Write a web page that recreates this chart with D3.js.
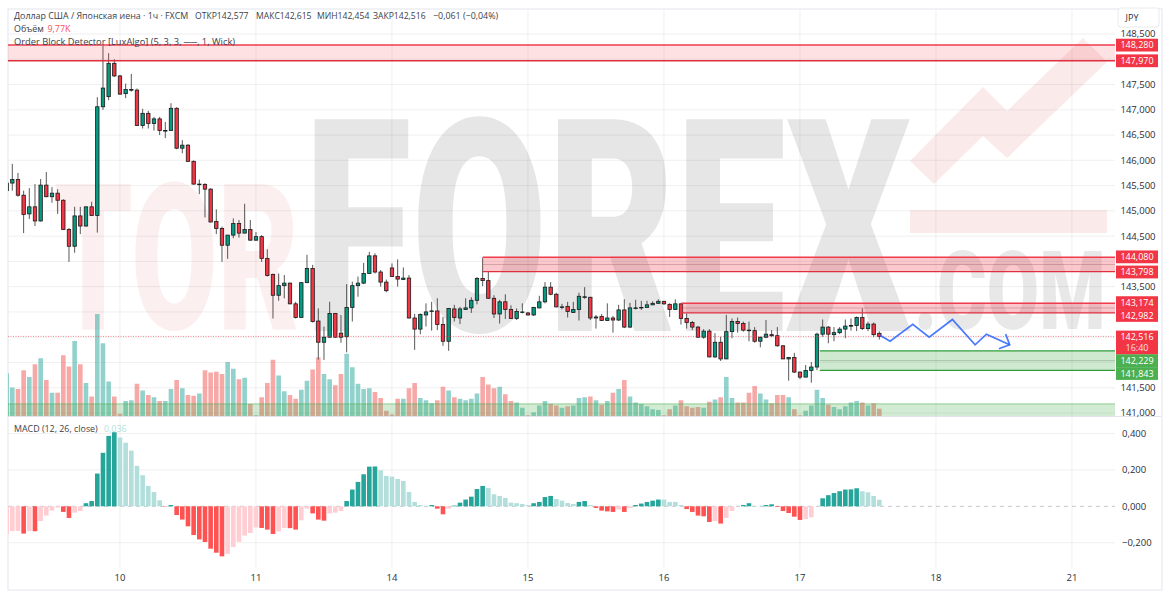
<!DOCTYPE html>
<html><head><meta charset="utf-8">
<script src="https://cdn.jsdelivr.net/npm/d3@7/dist/d3.min.js"></script>
<style>html,body{margin:0;padding:0;background:#fff;overflow:hidden}svg{display:block}text{font-family:"Open Sans","Noto Sans",sans-serif}</style>
</head><body><svg id="c" width="1170" height="600"></svg>
<script>
const firstBar = -20;
const opens = [145.40,145.55,145.62,145.31,144.94,145.08,144.80,145.51,145.28,145.35,145.21,144.63,144.30,144.90,144.70,145.08,144.91,147.06,147.26,147.92,
147.67,147.32,147.40,147.39,146.69,146.93,146.73,146.82,146.59,146.59,
147.03,146.24,146.30,145.98,145.53,145.52,145.43,144.79,144.65,144.32,
144.52,144.75,144.56,144.63,144.42,144.49,144.06,143.74,143.33,143.52,
143.57,143.16,142.89,143.58,143.86,142.82,142.40,142.50,142.97,142.58,
142.51,143.09,143.52,143.57,143.76,144.11,143.79,143.59,143.87,143.70,
143.64,143.67,142.88,142.66,142.94,143.01,143.02,142.75,142.42,143.06,
142.88,143.05,143.08,143.23,143.66,143.62,143.27,142.96,143.20,143.05,
142.87,143.00,142.98,142.94,143.08,143.20,143.49,143.35,143.10,143.11,
142.99,143.05,143.30,143.29,142.88,142.91,142.83,142.88,142.84,143.04,
142.70,143.08,143.09,143.09,143.14,143.17,143.21,143.15,143.05,143.16,
142.87,142.79,142.70,142.50,142.62,142.11,142.40,142.07,142.61,142.81,
142.77,142.64,142.63,142.42,142.50,142.55,142.53,142.33,142.07,142.10,
141.81,141.71,141.84,141.91,142.56,142.70,142.55,142.59,142.66,142.72,
142.73,142.89,142.67,142.76,142.577];
const closes = [145.55,145.62,145.31,144.93,145.08,144.80,145.51,145.28,145.35,145.21,144.63,144.30,144.90,144.70,145.08,144.91,147.06,147.43,147.92,147.67,
147.31,147.40,147.40,146.69,146.93,146.73,146.82,146.59,146.59,147.03,
146.24,146.30,145.98,145.53,145.53,145.43,144.78,144.65,144.32,144.52,
144.75,144.56,144.63,144.42,144.49,144.06,143.72,143.33,143.52,143.57,
143.16,142.89,143.58,143.86,142.81,142.40,142.50,142.97,142.50,142.50,
143.09,143.52,143.57,143.76,144.11,143.79,143.59,143.42,143.70,143.65,
143.67,142.88,142.66,142.95,143.00,143.02,142.75,142.42,143.07,142.89,
143.06,143.08,143.23,143.66,143.62,143.27,142.96,143.20,143.05,142.87,
143.01,143.00,142.94,143.09,143.20,143.49,143.35,143.10,143.10,143.01,
143.05,143.31,143.30,142.88,142.90,142.83,142.88,142.84,143.04,142.70,
143.08,143.08,143.09,143.14,143.17,143.21,143.16,143.05,143.16,142.87,
142.79,142.70,142.50,142.62,142.11,142.40,142.07,142.61,142.81,142.77,
142.64,142.63,142.42,142.50,142.56,142.53,142.33,142.07,142.10,141.81,
141.71,141.84,141.91,142.56,142.70,142.56,142.59,142.66,142.72,142.73,
142.89,142.67,142.76,142.55,142.516];
const highs = [145.60,145.93,145.75,145.40,145.45,145.53,145.63,145.77,145.47,145.43,145.23,144.66,145.08,145.08,145.08,145.18,147.25,148.27,148.12,148.00,
147.69,147.52,147.71,147.42,147.02,146.98,146.86,146.86,146.76,147.13,
147.05,146.40,146.32,146.00,145.62,145.55,145.45,145.03,144.69,144.52,
144.85,144.82,145.14,144.82,144.58,144.52,144.24,143.76,143.76,143.73,
143.58,143.20,143.59,144.13,143.93,143.07,142.71,143.20,142.98,142.94,
143.55,143.60,143.70,143.97,144.19,144.16,143.83,143.64,143.96,144.04,
143.88,143.73,142.96,142.97,143.17,143.20,143.27,142.90,143.08,143.14,
143.10,143.27,143.29,143.69,144.07,143.81,143.33,143.24,143.35,143.13,
143.07,143.17,143.00,143.10,143.32,143.59,143.59,143.38,143.16,143.20,
143.20,143.38,143.49,143.30,142.94,142.96,143.17,142.92,143.14,143.25,
143.18,143.24,143.22,143.22,143.21,143.25,143.22,143.17,143.25,143.17,
142.97,142.82,142.72,142.66,142.66,142.58,142.51,142.94,142.87,142.89,
142.81,142.81,142.70,142.51,142.84,142.64,142.70,142.34,142.11,142.19,
141.82,141.95,142.01,142.59,142.85,142.72,142.70,142.70,142.85,142.87,
142.91,143.07,142.81,142.79,142.615];
const lows = [145.38,145.40,145.28,144.56,144.84,144.70,144.79,145.27,145.16,144.94,144.62,143.99,144.17,144.54,144.69,144.90,144.57,147.00,147.19,147.65,
147.30,147.23,147.36,146.68,146.63,146.63,146.59,146.50,146.44,146.59,
146.22,146.14,145.97,145.52,145.33,144.87,144.77,144.54,143.99,144.05,
144.46,144.47,144.56,144.41,144.41,143.99,143.70,142.87,143.22,143.27,
143.15,142.87,142.89,143.57,142.79,142.06,142.05,142.49,142.49,142.39,
142.20,142.81,143.30,143.55,143.75,143.76,143.50,143.39,143.69,143.50,
143.63,142.87,142.25,142.56,142.71,142.63,142.64,142.33,142.23,142.81,
142.76,143.04,142.98,143.15,143.51,143.26,142.88,142.77,142.86,142.87,
142.84,142.97,142.93,142.92,143.07,143.17,143.33,143.09,143.05,142.89,
142.98,142.83,143.26,142.84,142.67,142.82,142.82,142.59,142.82,142.68,
142.68,143.05,143.04,143.08,143.14,143.16,143.14,142.90,143.04,142.75,
142.67,142.64,142.49,142.47,142.10,142.09,142.03,142.07,142.48,142.59,
142.61,142.42,142.39,142.30,142.48,142.50,142.31,142.07,141.64,141.79,
141.67,141.71,141.60,141.85,142.51,142.38,142.42,142.56,142.48,142.63,
142.62,142.64,142.62,142.50,142.454];
const volumes = [57,38,36,61,52,69,77,48,31,31,81,66,100,69,44,26,136,97,46,26,3,
20,21,43,34,28,25,20,20,36,48,37,28,27,30,61,58,59,56,72,63,
49,51,16,1,25,44,75,54,33,28,23,35,47,62,78,56,49,41,56,83,
65,43,36,37,32,24,7,2,23,
23,37,44,24,21,17,21,39,34,25,23,21,23,30,52,42,37,39,29,20,
18,11,1,5,14,20,16,14,11,13,14,24,25,26,21,15,20,31,36,48,
26,18,16,13,9,8,1,9,14,21,13,11,12,11,19,22,25,52,24,18,
18,31,40,30,22,17,28,28,25,9,1,7,14,35,24,15,12,9,13,18,
20,18,14,17,9.77];
const macdHist = [-0.155,-0.136,-0.136,-0.150,-0.136,-0.137,-0.081,-0.051,-0.024,-0.007,-0.031,-0.064,-0.035,-0.026,0.017,0.029,0.18,0.294,0.387,0.407,
0.378,0.349,0.306,0.222,0.171,0.112,0.079,0.033,-0.002,0.007,
-0.048,-0.073,-0.11,-0.158,-0.182,-0.196,-0.233,-0.255,-0.275,-0.261,
-0.224,-0.195,-0.161,-0.147,-0.116,-0.119,-0.128,-0.152,-0.138,-0.119,
-0.120,-0.128,-0.077,-0.013,-0.039,-0.073,-0.079,-0.039,-0.035,-0.026,
0.029,0.092,0.134,0.176,0.218,0.219,0.198,0.167,0.163,0.150,
0.139,0.079,0.024,0.007,0.002,0.007,-0.013,-0.044,-0.013,0.004,
0.020,0.037,0.053,0.095,0.112,0.101,0.066,0.057,0.046,0.020,
0.017,0.013,0.007,0.017,0.024,0.051,0.057,0.040,0.031,0.018,
0.013,0.024,0.029,0.007,-0.009,-0.024,-0.028,-0.031,-0.018,-0.031,
-0.009,0.007,0.015,0.024,0.031,0.037,0.037,0.024,0.024,0.007,
-0.015,-0.031,-0.051,-0.055,-0.086,-0.081,-0.095,-0.064,-0.026,0.0,
0.007,0.017,0.002,0.002,0.007,0.011,-0.004,-0.026,-0.037,-0.057,
-0.075,-0.07,-0.061,-0.001,0.044,0.061,0.073,0.083,0.092,0.093,
0.099,0.083,0.077,0.057,0.036];
const dayTicks = [0,24,48,72,96,120,144,168];
const dayLabels = ["10","11","14","15","16","17","18","21"];
const priceTicks = [148.5,148,147.5,147,146.5,146,145.5,145,144.5,144,143.5,143,142.5,142,141.5,141];
const hiddenPriceTicks = [148,144,143,142.5,142];
const macdTicks = [0.4,0.2,0,-0.2];
const redZones = [{from:-19.76,top:148.28,bottom:147.97,strong:false},{from:64,top:144.08,bottom:143.798,strong:true},{from:99,top:143.174,bottom:142.982,strong:true}];
const greenZones = [{from:123.5,top:142.229,bottom:141.843}];
const volumeZoneTop = 141.18, volumeZoneBottom = 140.94;
const lastPrice = 142.516;
const forecastIdx = [134.1,135.9,139.9,142.8,146.9,150.9,152.9,157];
const forecastPrice = [142.54,142.42,142.755,142.50,142.85,142.35,142.56,142.35];
const arrowHeadIdx = [156.3,157,155.1];
const arrowHeadPrice = [142.56,142.35,142.27];
const priceFlags = [{t:"148,280",y:148.28,dy:0,c:"#f23645"},{t:"147,970",y:147.97,dy:0,c:"#f23645"},{t:"144,080",y:144.08,dy:-0.5,c:"#f23645"},{t:"143,798",y:143.798,dy:0.4,c:"#f23645"},{t:"143,174",y:143.174,dy:-0.5,c:"#f23645"},{t:"142,982",y:142.982,dy:2.6,c:"#f23645"},{t:"142,229",y:142.229,dy:9.7,c:"#4caf50"},{t:"141,843",y:141.843,dy:3.1,c:"#4caf50"}];

const W = {l:8, r:1115, axisR:1162, top:9, sep:416.5, gridBottom:568, bottom:590};
const bars = opens.map((o,k)=>({i:firstBar+k,o,c:closes[k],h:highs[k],l:lows[k],v:volumes[k],m:macdHist[k],mp:k?macdHist[k-1]:macdHist[k]}));
const x = d3.scaleLinear().domain([-19.76,175.59]).range([W.l,W.r]);
const y = d3.scaleLinear().domain([141,148.5]).range([413,34]);
const yV = d3.scaleLinear().domain([0,136]).range([416,314]);
const yM = d3.scaleLinear().domain([-0.2,0.4]).range([542.7,433.5]);
const fmt = d3.format(".3f"), ru = v=>fmt(v).replace(".",",").replace("-","\u2212");
const svg = d3.select("#c");
const defs = svg.append("defs");
defs.append("clipPath").attr("id","cp").append("rect").attr("x",W.l).attr("y",W.top).attr("width",W.r-W.l).attr("height",W.sep-W.top);
defs.append("clipPath").attr("id","cm").append("rect").attr("x",W.l).attr("y",W.sep).attr("width",W.r-W.l).attr("height",W.gridBottom-W.sep);

// watermark
const wm = svg.append("g");
function mark(t,x0,base,sx,size,fill){wm.append("text").text(t).attr("transform",`translate(${x0},${base}) scale(${sx},1)`).attr("font-size",size).attr("font-weight",900).style("font-family","Roboto").attr("fill",fill);}
mark("TOR",54,329,0.61,205,"#fcefef");
mark("FOREX",304,331,0.66,298,"#e6e6e6");
mark(".COM",914,329,0.69,110,"#e8e8e8");
wm.append("polygon").attr("points","910,161 983,87 1007,111 1083,38 1107,62 1007,158 983,136 934,184").attr("fill","#fbeaea");
wm.append("rect").attr("x",910).attr("y",210).attr("width",197).attr("height",23).attr("fill","#fbeaea");

// grid
const grid = svg.append("g").attr("stroke","rgba(42,46,57,0.07)").attr("stroke-width",1);
grid.selectAll("line.h").data(priceTicks).join("line").attr("x1",W.l).attr("x2",W.r).attr("y1",d=>y(d)).attr("y2",d=>y(d));
grid.selectAll("line.m").data(macdTicks.filter(d=>d!==0)).join("line").attr("class","m").attr("x1",W.l).attr("x2",W.r).attr("y1",d=>yM(d)).attr("y2",d=>yM(d));
grid.selectAll("line.v").data(dayTicks).join("line").attr("class","v").attr("x1",d=>x(d)).attr("x2",d=>x(d)).attr("y1",W.top).attr("y2",W.gridBottom);

// panel frame
const frame = svg.append("g").attr("fill","none").attr("stroke","#eceef2").attr("stroke-width",1.5);
frame.append("rect").attr("x",W.l).attr("y",W.top).attr("width",W.axisR-W.l).attr("height",W.bottom-W.top);
svg.append("line").attr("x1",W.l).attr("x2",W.axisR-1).attr("y1",W.sep).attr("y2",W.sep).attr("stroke","#e3e5ec");

// volume
const pane = svg.append("g").attr("clip-path","url(#cp)");
pane.selectAll("rect.vol").data(bars).join("rect").attr("x",d=>x(d.i)-2.3).attr("width",4.6).attr("y",d=>yV(d.v)).attr("height",d=>yV(0)-yV(d.v)).attr("fill",d=>d.c>=d.o?"rgba(38,166,154,0.5)":"rgba(239,83,80,0.5)");
pane.append("rect").attr("x",W.l).attr("width",W.r-W.l).attr("y",y(volumeZoneTop)).attr("height",y(volumeZoneBottom)-y(volumeZoneTop)).attr("fill","rgba(76,175,80,0.25)");
pane.append("line").attr("x1",W.l).attr("x2",W.r).attr("y1",y(volumeZoneTop)).attr("y2",y(volumeZoneTop)).attr("stroke","rgba(76,175,80,0.55)");

// candles
pane.selectAll("line.w").data(bars).join("line").attr("x1",d=>x(d.i)).attr("x2",d=>x(d.i)).attr("y1",d=>y(d.h)).attr("y2",d=>y(d.l)).attr("stroke","#2a2a2a").attr("stroke-opacity",0.78);
pane.selectAll("rect.b").data(bars).join("rect").attr("x",d=>x(d.i)-1.7).attr("width",3.4).attr("y",d=>y(Math.max(d.o,d.c))).attr("height",d=>Math.max(0.6,Math.abs(y(d.o)-y(d.c)))).attr("fill",d=>d.c>=d.o?"#089981":"#f23645").attr("stroke","#1a1a1a").attr("stroke-width",0.8);

// last price dotted
pane.append("line").attr("x1",W.l).attr("x2",W.r).attr("y1",y(lastPrice)).attr("y2",y(lastPrice)).attr("stroke","#f23645").attr("stroke-opacity",0.6).attr("stroke-dasharray","1 1.5");

// zones
redZones.forEach(z=>{
 const g=pane.append("g"); const x0=x(z.from);
 g.append("rect").attr("x",x0).attr("width",W.r-x0).attr("y",y(z.top)).attr("height",y(z.bottom)-y(z.top)).attr("fill",z.strong?"rgba(242,54,69,0.27)":"rgba(242,54,69,0.15)");
 if(z.strong){g.append("line").attr("x1",x0).attr("x2",W.r).attr("y1",y((z.top+z.bottom)/2)).attr("y2",y((z.top+z.bottom)/2)).attr("stroke","rgba(130,70,70,0.3)");}
 g.append("line").attr("x1",x0).attr("x2",W.r).attr("y1",y(z.top)).attr("y2",y(z.top)).attr("stroke","#ef3b4a").attr("stroke-width",1.5);
 g.append("line").attr("x1",x0).attr("x2",W.r).attr("y1",y(z.bottom)).attr("y2",y(z.bottom)).attr("stroke","#e02f3e").attr("stroke-width",1.4);
});
greenZones.forEach(z=>{
 const g=pane.append("g"); const x0=x(z.from);
 g.append("rect").attr("x",x0).attr("width",W.r-x0).attr("y",y(z.top)).attr("height",y(z.bottom)-y(z.top)).attr("fill","rgba(76,175,80,0.27)");
 g.append("line").attr("x1",x0).attr("x2",W.r).attr("y1",y((z.top+z.bottom)/2)).attr("y2",y((z.top+z.bottom)/2)).attr("stroke","rgba(70,110,70,0.3)");
 [z.top,z.bottom].forEach(p=>g.append("line").attr("x1",x0).attr("x2",W.r).attr("y1",y(p)).attr("y2",y(p)).attr("stroke","#2f9e3a").attr("stroke-width",1.4));
});

// forecast
const ln=d3.line().x(d=>x(d[0])).y(d=>y(d[1]));
pane.append("path").attr("d",ln(d3.zip(forecastIdx,forecastPrice))).attr("fill","none").attr("stroke","#2962ff").attr("stroke-width",1.7).attr("stroke-opacity",.85);
pane.append("path").attr("d",ln(d3.zip(arrowHeadIdx,arrowHeadPrice))).attr("fill","none").attr("stroke","#2962ff").attr("stroke-width",1.7).attr("stroke-opacity",.85);

// MACD
const mp=svg.append("g").attr("clip-path","url(#cm)");
mp.append("line").attr("x1",W.l).attr("x2",W.r).attr("y1",yM(0)).attr("y2",yM(0)).attr("stroke","#c4c6cc").attr("stroke-dasharray","4 4");
mp.selectAll("rect").data(bars).join("rect").attr("x",d=>x(d.i)-2.3).attr("width",4.6).attr("y",d=>yM(Math.max(0,d.m))).attr("height",d=>Math.abs(yM(d.m)-yM(0)))
 .attr("fill",d=>d.m>=0?(d.m>d.mp?"#26a69a":"#b2dfdb"):(d.m<d.mp?"#ff5252":"#ffcdd2"));

// axes text
const ax=svg.append("g").attr("font-size",9.5).attr("fill","#2a2e39");
ax.selectAll("text.p").data(priceTicks.filter(d=>!hiddenPriceTicks.includes(d))).join("text").attr("class","p").attr("x",1138).attr("y",d=>y(d)).attr("dy","0.36em").attr("text-anchor","middle").text(ru);
ax.selectAll("text.m").data(macdTicks).join("text").attr("class","m").attr("x",1122).attr("y",d=>yM(d)).attr("dy","0.36em").text(ru);
ax.selectAll("text.d").data(dayTicks).join("text").attr("class","d").attr("x",d=>x(d)).attr("y",578).attr("dy","0.36em").attr("text-anchor","middle").text((d,k)=>dayLabels[k]);

// flags
const fl=svg.append("g");
priceFlags.forEach(f=>{const cy=y(f.y)+f.dy;
 fl.append("rect").attr("x",1116).attr("y",cy-6.4).attr("width",42).attr("height",12.8).attr("fill",f.c);
 fl.append("text").attr("x",1137).attr("y",cy).attr("dy","0.36em").attr("text-anchor","middle").attr("font-size",9).attr("fill","#fff").text(f.t);
});
fl.append("rect").attr("x",1116).attr("y",y(lastPrice)-5.8).attr("width",42).attr("height",23.6).attr("fill","#f23645");
fl.append("text").attr("x",1137).attr("y",y(lastPrice)).attr("dy","0.36em").attr("text-anchor","middle").attr("font-size",9).attr("fill","#fff").text(ru(lastPrice));
fl.append("text").attr("x",1137).attr("y",y(lastPrice)+11).attr("dy","0.36em").attr("text-anchor","middle").attr("font-size",9).attr("fill","#fff").attr("fill-opacity",.85).text("16:40");

// JPY
svg.append("rect").attr("x",1118).attr("y",8).attr("width",41).attr("height",19).attr("rx",2.5).attr("fill","#fff").attr("stroke","#e8eaee");
svg.append("text").attr("x",1132).attr("y",18).attr("dy","0.36em").attr("text-anchor","middle").attr("font-size",9).attr("fill","#2a2e39").text("JPY");

// header
const hd=svg.append("g").attr("font-size",8.9).attr("fill","#3a3e49");
hd.append("text").attr("x",14).attr("y",16).attr("dy","0.36em").text("Доллар США / Японская иена · 1ч · FXCM");
[["ОТКР142,577",195],["МАКС142,615",256],["МИН142,454",317],["ЗАКР142,516",373]].forEach(a=>hd.append("text").attr("x",a[1]).attr("y",16).attr("dy","0.36em").attr("font-size",8.6).text(a[0]));
hd.append("text").attr("x",433).attr("y",16).attr("dy","0.36em").text("−0,061 (−0,04%)");
hd.append("text").attr("x",14).attr("y",29).attr("dy","0.36em").text("Объём");
hd.append("text").attr("x",47.5).attr("y",29).attr("dy","0.36em").attr("fill","#f7525f").text("9,77K");
hd.append("text").attr("x",14).attr("y",42).attr("dy","0.36em").attr("font-size",9.3).text("Order Block Detector [LuxAlgo] (5, 3, 3, ──, 1, Wick)");
hd.append("text").attr("x",14).attr("y",428.5).attr("dy","0.36em").text("MACD (12, 26, close)");
hd.append("text").attr("x",104).attr("y",428.5).attr("dy","0.36em").attr("fill","#b2dfdb").text("0,036");
</script></body></html>
